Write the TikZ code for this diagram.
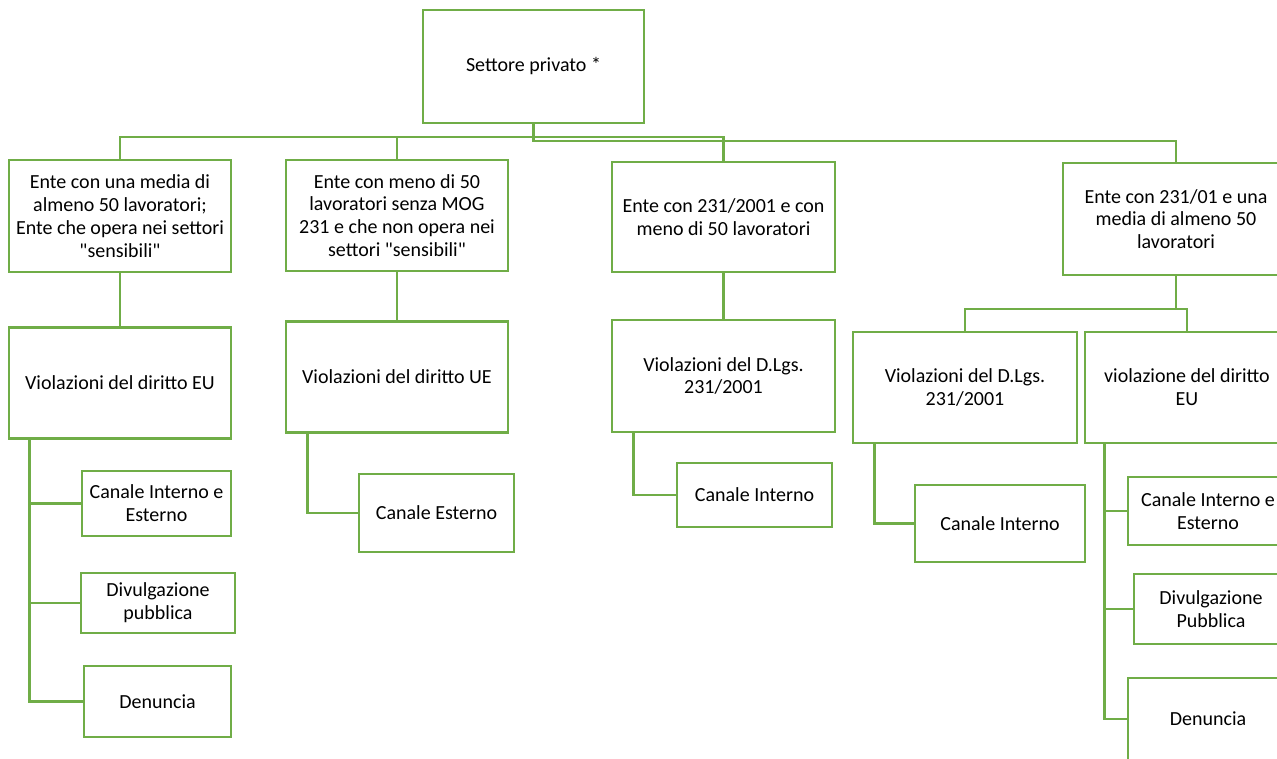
\documentclass[tikz,border=0pt]{standalone}
\usepackage{fontspec}
\setmainfont{Carlito}[Ligatures=TeXOff]
\definecolor{boxgreen}{HTML}{70AD47}
\begin{document}
\begin{tikzpicture}[x=1pt,y=-1pt,
  box/.style={draw=boxgreen,line width=2.8pt,fill=white,align=center,inner sep=2pt,
    font=\fontsize{20}{22.8}\selectfont,text=black},
  conn/.style={draw=boxgreen,line width=2.8pt}]
\useasboundingbox (0,0) rectangle (1277,758);
\clip (0,0) rectangle (1277,758);
\fill[white] (0,0) rectangle (1277,758);
% nodes
\node[box,minimum width=221pt,minimum height=113pt] (top) at (533.5,66.5) {Settore privato *};
\node[box,minimum width=222pt,minimum height=112pt] (e1) at (120,216) {Ente con una media di\\almeno 50 lavoratori;\\Ente che opera nei settori\\"sensibili"};
\node[box,minimum width=222pt,minimum height=111pt] (e2) at (397,215.5) {Ente con meno di 50\\lavoratori senza MOG\\231 e che non opera nei\\settori "sensibili"};
\node[box,minimum width=223pt,minimum height=110pt] (e3) at (723.5,217) {Ente con 231/2001 e con\\meno di 50 lavoratori};
\node[box,minimum width=226pt,minimum height=112pt] (e4) at (1176,219) {Ente con 231/01 e una\\media di almeno 50\\lavoratori};
\node[box,minimum width=222pt,minimum height=111pt] (v1) at (120,383) {Violazioni del diritto EU};
\node[box,minimum width=222pt,minimum height=111pt] (v2) at (397,377) {Violazioni del diritto UE};
\node[box,minimum width=223pt,minimum height=112pt] (v3) at (723.5,376) {Violazioni del D.Lgs.\\231/2001};
\node[box,minimum width=224pt,minimum height=111pt] (v4a) at (965,387.5) {Violazioni del D.Lgs.\\231/2001};
\node[box,minimum width=204pt,minimum height=111pt] (v4b) at (1187,387.5) {violazione del diritto\\EU};
\node[box,minimum width=149pt,minimum height=65pt] (c11) at (156.5,503.5) {Canale Interno e\\Esterno};
\node[box,minimum width=154pt,minimum height=60pt] (c12) at (158,603) {Divulgazione\\pubblica};
\node[box,minimum width=147pt,minimum height=71pt] (c13) at (157.5,701.5) {Denuncia};
\node[box,minimum width=155pt,minimum height=78pt] (c21) at (436.5,513) {Canale Esterno};
\node[box,minimum width=155pt,minimum height=64pt] (c31) at (754.5,495) {Canale Interno};
\node[box,minimum width=170pt,minimum height=77pt] (c41) at (1000,523.5) {Canale Interno};
\node[box,minimum width=160pt,minimum height=68pt] (c51) at (1208,511) {Canale Interno e\\Esterno};
\node[box,minimum width=154pt,minimum height=70pt] (c52) at (1211,609) {Divulgazione\\Pubblica};
\node[box,minimum width=160pt,minimum height=82pt] (c53) at (1208,719) {Denuncia};
% connectors level 1
\draw[conn] (top.south) -- (top.south |- 0,141) -| (e4.north);
\draw[conn] (top.south |- 0,137) -| (e1.north);
\draw[conn] (e2.north) -- (e2.north |- 0,137) -| (e3.north);
% level 2
\draw[conn] (e1.south) -- (v1.north);
\draw[conn] (e2.south) -- (v2.north);
\draw[conn] (e3.south) -- (v3.north);
\draw[conn] (e4.south) -- (e4.south |- 0,309) -| (v4a.north);
\draw[conn] (e4.south |- 0,309) -| (v4b.north);
% level 3
\draw[conn] ([xshift=22pt]v1.south west) |- (c13.west);
\draw[conn] ([xshift=22pt]v1.south west) |- (c11.west);
\draw[conn] ([xshift=22pt]v1.south west) |- (c12.west);
\draw[conn] ([xshift=23pt]v2.south west) |- (c21.west);
\draw[conn] ([xshift=23pt]v3.south west) |- (c31.west);
\draw[conn] ([xshift=23pt]v4a.south west) |- (c41.west);
\draw[conn] ([xshift=21pt]v4b.south west) |- (c53.west);
\draw[conn] ([xshift=21pt]v4b.south west) |- (c51.west);
\draw[conn] ([xshift=21pt]v4b.south west) |- (c52.west);
\end{tikzpicture}
\end{document}
